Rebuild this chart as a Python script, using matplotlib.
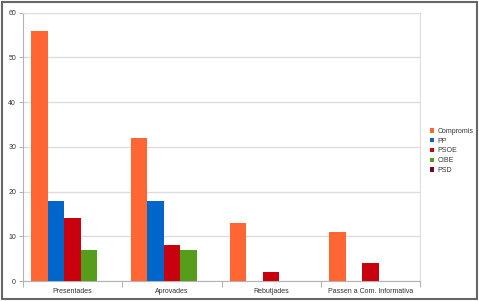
import numpy as np
import matplotlib.pyplot as plt
from matplotlib.patches import Rectangle

categories = ["Presentades", "Aprovades", "Rebutjades", "Passen a Com. Informativa"]
series = ["Compromis", "PP", "PSOE", "CIBE", "PSD"]
compromis = [56, 32, 13, 11]
pp = [18, 18, 0, 0]
psoe = [14, 8, 2, 4]
cibe = [7, 7, 0, 0]
psd = [0, 0, 0, 0]
colors = ["#ff6633", "#0066cc", "#c9000e", "#579d1c", "#7e0021"]

plt.rcParams['font.family'] = ['Liberation Sans', 'DejaVu Sans']

fig = plt.figure(figsize=(4.79, 3.01), dpi=100)
ax = fig.add_axes([0.048, 0.066, 0.829, 0.892])

values = [compromis, pp, psoe, cibe, psd]
x = np.arange(len(categories))
w = 1 / 6
for i, (name, vals) in enumerate(zip(series, values)):
    ax.bar(x - 2.5 * w + (i + 0.5) * w, vals, width=w, color=colors[i],
           label=name, zorder=3)

ax.set_xlim(-0.5, len(categories) - 0.5)
ax.set_ylim(0, 60)
ax.set_yticks(range(0, 61, 10))
ax.set_xticks(x)
ax.set_xticklabels(categories)
ax.set_xticks(np.arange(-0.5, len(categories), 1), minor=True)
ax.tick_params(axis='x', which='major', length=0, labelsize=5, colors='#333333', pad=5)
ax.tick_params(axis='x', which='minor', length=4, color='#b3b3b3', width=0.8)
ax.tick_params(axis='y', length=3, color='#b3b3b3', width=0.8, labelsize=5,
               colors='#333333', pad=2)
ax.grid(axis='y', color='#dddddd', linewidth=1, zorder=0)
for s in ax.spines.values():
    s.set_color('#dddddd')
ax.spines['left'].set_color('#b3b3b3')
ax.spines['bottom'].set_color('#b3b3b3')

leg = fig.legend(loc='upper left', bbox_to_anchor=(0.898, 0.575), frameon=False,
                 fontsize=5, handlelength=0.6, handleheight=0.6, handletextpad=0.5,
                 labelspacing=0.4, borderaxespad=0, borderpad=0)
for t in leg.get_texts():
    t.set_color('#333333')

fig.patches.append(Rectangle((0.004, 0.007), 0.992, 0.986, transform=fig.transFigure,
                             fill=False, edgecolor='#666666', linewidth=1.5))

fig.savefig("out.png", dpi=100)
